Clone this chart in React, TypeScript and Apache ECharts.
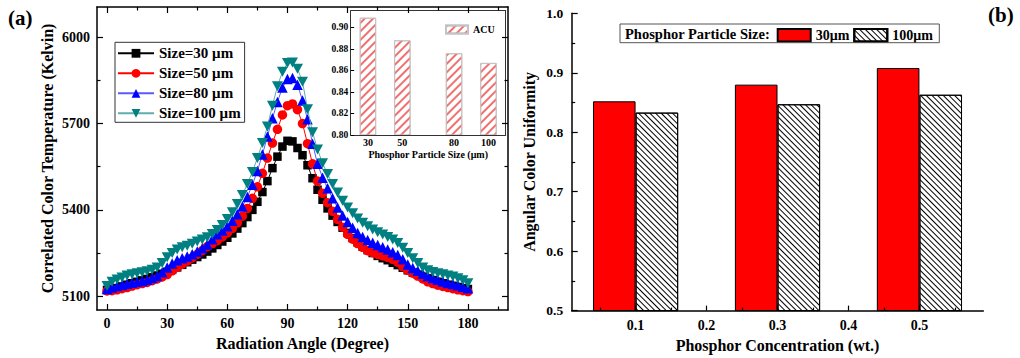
import React, { useEffect, useRef } from 'react';
import * as echarts from 'echarts';

const FONT = "'Liberation Serif', 'Times New Roman', serif";

// ---------- (a) main: CCT vs radiation angle ----------
const angles = [
  0, 2.5, 5, 7.5, 10, 12.5, 15, 17.5, 20, 22.5,
  25, 27.5, 30, 32.5, 35, 37.5, 40, 42.5, 45, 47.5,
  50, 52.5, 55, 57.5, 60, 62.5, 65, 67.5, 70, 72.5,
  75, 77.5, 80, 82.5, 85, 87.5, 90, 92.5, 95, 97.5,
  100, 102.5, 105, 107.5, 110, 112.5, 115, 117.5, 120, 122.5,
  125, 127.5, 130, 132.5, 135, 137.5, 140, 142.5, 145, 147.5,
  150, 152.5, 155, 157.5, 160, 162.5, 165, 167.5, 170, 172.5,
  175, 177.5, 180,
];
const cct30 = [
  5122, 5125, 5128, 5134, 5140, 5145, 5150, 5155, 5160, 5166,
  5172, 5178, 5185, 5192, 5200, 5209, 5218, 5227, 5236, 5245,
  5255, 5266, 5278, 5290, 5303, 5318, 5335, 5354, 5375, 5400,
  5428, 5462, 5500, 5545, 5585, 5620, 5640, 5638, 5615, 5590,
  5555, 5510, 5470, 5435, 5405, 5380, 5358, 5338, 5320, 5302,
  5287, 5272, 5260, 5250, 5240, 5232, 5225, 5216, 5208, 5199,
  5190, 5182, 5175, 5168, 5162, 5156, 5150, 5145, 5140, 5136,
  5132, 5128, 5125,
];
const cct50 = [
  5118, 5119, 5122, 5126, 5130, 5135, 5140, 5144, 5148, 5154,
  5160, 5167, 5175, 5188, 5200, 5211, 5222, 5233, 5245, 5258,
  5272, 5283, 5293, 5306, 5320, 5336, 5355, 5378, 5405, 5440,
  5480, 5527, 5580, 5632, 5680, 5730, 5762, 5768, 5748, 5700,
  5630, 5560, 5500, 5458, 5425, 5395, 5367, 5340, 5315, 5298,
  5283, 5270, 5258, 5251, 5245, 5240, 5235, 5228, 5218, 5203,
  5190, 5180, 5170, 5160, 5150, 5144, 5138, 5134, 5130, 5126,
  5122, 5119, 5116,
];
const cct80 = [
  5125, 5130, 5135, 5139, 5143, 5147, 5150, 5153, 5157, 5163,
  5170, 5183, 5200, 5214, 5225, 5232, 5238, 5246, 5255, 5267,
  5280, 5298, 5315, 5328, 5343, 5362, 5385, 5412, 5445, 5487,
  5535, 5592, 5655, 5718, 5775, 5825, 5855, 5858, 5835, 5780,
  5715, 5630, 5560, 5512, 5475, 5440, 5408, 5380, 5358, 5338,
  5320, 5306, 5295, 5286, 5278, 5270, 5262, 5253, 5243, 5228,
  5210, 5198, 5188, 5178, 5170, 5163, 5157, 5151, 5146, 5142,
  5138, 5133, 5128,
];
const cct100 = [
  5135, 5150, 5158, 5165, 5172, 5176, 5180, 5183, 5187, 5192,
  5200, 5215, 5235, 5250, 5262, 5270, 5275, 5282, 5290, 5297,
  5305, 5316, 5330, 5347, 5368, 5392, 5420, 5452, 5490, 5532,
  5580, 5632, 5690, 5762, 5830, 5880, 5910, 5912, 5890, 5845,
  5750, 5670, 5610, 5562, 5525, 5490, 5460, 5432, 5408, 5388,
  5370, 5355, 5343, 5332, 5322, 5314, 5306, 5297, 5285, 5268,
  5250, 5232, 5215, 5200, 5190, 5184, 5180, 5176, 5172, 5168,
  5162, 5155, 5145,
];
const seriesNamesA = ['Size=30 μm', 'Size=50 μm', 'Size=80 μm', 'Size=100 μm'];
const xMajorA = [0, 30, 60, 90, 120, 150, 180];
const xMinorA = [15, 45, 75, 105, 135, 165, 195];
const yMajorA = [5100, 5400, 5700, 6000];
const yMinorA = [5250, 5550, 5850];

// ---------- (a) inset: ACU vs particle size ----------
const insetSizes = [30, 50, 80, 100];
const insetACU = [0.909, 0.888, 0.876, 0.867];
const insetYTicks = [0.8, 0.82, 0.84, 0.86, 0.88, 0.9];

// ---------- (b) ACU vs concentration ----------
const concentrations = [0.1, 0.3, 0.5];
const acu30 = [0.852, 0.880, 0.908];
const acu100 = [0.833, 0.847, 0.863];
const xMajorB = [0.1, 0.2, 0.3, 0.4, 0.5];
const xMinorB = [0.05, 0.15, 0.25, 0.35, 0.45, 0.55];

const bold = (size: number) => ({ color: '#000', fontFamily: FONT, fontWeight: 'bold' as const, fontSize: size });

function tickAxis(
  kind: 'x' | 'y', gridIndex: number, position: string, min: number, max: number,
  values: number[], len: number, opts: any = {},
) {
  return {
    type: 'value', gridIndex, position, min, max, z: 5,
    axisLine: { show: !!opts.line, onZero: false, lineStyle: { color: opts.lineColor || '#000', width: opts.lineWidth || 1.5 } },
    axisTick: { show: values.length > 0, inside: true, length: len, customValues: values, lineStyle: { color: '#000', width: opts.tickWidth || 1.2 } },
    axisLabel: opts.labels
      ? { show: true, customValues: values, margin: opts.margin, formatter: opts.formatter || ((v: number) => String(v)), ...bold(opts.fontSize || 13.5) }
      : { show: false },
    splitLine: { show: false },
    ...(opts.extra || {}),
  };
}

function buildOption() {
  const lineSeries = [cct30, cct50, cct80, cct100].map((vals, k) => {
    const styles = [
      { symbol: 'rect', size: 8.5, color: '#000000', line: '#000000' },
      { symbol: 'circle', size: 9.5, color: '#ff0000', line: '#ff0000' },
      { symbol: 'triangle', size: 10.5, color: '#0000ff', line: '#5a5aff' },
      { symbol: 'path://M0,0L10,0L5,9Z', size: [11, 10], color: '#008080', line: '#5fadad' },
    ][k];
    return {
      name: seriesNamesA[k], type: 'line', xAxisIndex: 0, yAxisIndex: 0,
      data: angles.map((a, i) => [a, vals[i]]),
      symbol: styles.symbol, symbolSize: styles.size, showAllSymbol: true,
      lineStyle: { color: styles.line, width: 1 },
      itemStyle: { color: styles.color },
      clip: true, z: 2 + k,
    };
  });

  return {
    animation: false,
    backgroundColor: '#ffffff',
    grid: [
      { left: 97, top: 7, width: 411, height: 303 },
      { left: 350.7, top: 10.7, width: 155, height: 124.3 },
      { left: 571.7, top: 13.3, width: 411.6, height: 301.4 },
    ],
    xAxis: [
      tickAxis('x', 0, 'bottom', -5, 200, xMajorA, 6, {
        line: true, labels: true, margin: 6.5, fontSize: 14,
        extra: { name: 'Radiation Angle (Degree)', nameLocation: 'middle', nameGap: 25, nameTextStyle: bold(16) },
      }),
      tickAxis('x', 0, 'bottom', -5, 200, xMinorA, 3.5),
      tickAxis('x', 0, 'top', -5, 200, xMajorA, 6, { line: true }),
      tickAxis('x', 0, 'top', -5, 200, xMinorA, 3.5),
      // inset
      tickAxis('x', 1, 'bottom', 20, 110, insetSizes, 0, {
        line: true, labels: true, margin: 2, fontSize: 10, lineColor: '#333', lineWidth: 1,
        extra: { axisTick: { show: false }, name: 'Phosphor Particle Size (μm)', nameLocation: 'middle', nameGap: 14, nameTextStyle: bold(10) },
      }),
      tickAxis('x', 1, 'top', 20, 110, [], 0, { line: true, lineColor: '#333', lineWidth: 1 }),
      // (b)
      tickAxis('x', 2, 'bottom', 0.01, 0.59, xMajorB, 5, {
        line: true, labels: true, margin: 7.5, fontSize: 14,
        formatter: (v: number) => v.toFixed(1),
        extra: { name: 'Phosphor Concentration (wt.)', nameLocation: 'middle', nameGap: 24, nameTextStyle: bold(16) },
      }),
      tickAxis('x', 2, 'bottom', 0.01, 0.59, xMinorB, 3),
    ],
    yAxis: [
      tickAxis('y', 0, 'left', 5052, 6105, yMajorA, 6, {
        line: true, labels: true, margin: 7, fontSize: 14,
        extra: { name: 'Correlated Color Temperature (Kelvin)', nameLocation: 'middle', nameGap: 42, nameTextStyle: bold(16) },
      }),
      tickAxis('y', 0, 'left', 5052, 6105, yMinorA, 3.5),
      tickAxis('y', 0, 'right', 5052, 6105, yMajorA, 6, { line: true }),
      tickAxis('y', 0, 'right', 5052, 6105, yMinorA, 3.5),
      // inset
      tickAxis('y', 1, 'left', 0.8, 0.9155, insetYTicks, 3.5, {
        line: true, labels: true, margin: 2.5, fontSize: 9.5, lineColor: '#333', lineWidth: 1, tickWidth: 1,
        formatter: (v: number) => v.toFixed(2),
      }),
      tickAxis('y', 1, 'right', 0.8, 0.9155, [], 0, { line: true, lineColor: '#333', lineWidth: 1 }),
      // (b)
      {
        type: 'value', gridIndex: 2, position: 'left', min: 0.5, max: 1.0, interval: 0.1, z: 5,
        axisLine: { show: true, onZero: false, lineStyle: { color: '#000', width: 1.5 } },
        axisTick: { show: true, inside: true, length: 6, lineStyle: { color: '#000', width: 1.2 } },
        minorTick: { show: true, splitNumber: 2, length: 3.5, lineStyle: { color: '#000', width: 1.2 } },
        axisLabel: { show: true, margin: 8.5, formatter: (v: number) => v.toFixed(1), ...bold(13.5) },
        splitLine: { show: false },
        name: 'Angular Color Uniformity', nameLocation: 'middle', nameGap: 34, nameTextStyle: bold(16),
      },
    ],
    legend: [
      {
        data: seriesNamesA, orient: 'vertical', left: 115, top: 42.3,
        itemWidth: 36, itemHeight: 11, itemGap: 5, padding: [3.5, 4, 1.5, 2],
        borderColor: '#333', borderWidth: 1, backgroundColor: '#fff',
        textStyle: bold(15), selectedMode: false,
      },
      {
        data: ['ACU'], left: 445, top: 24.5, itemWidth: 22, itemHeight: 8, padding: 0,
        icon: 'rect', textStyle: bold(10), selectedMode: false,
      },
      {
        data: ['30μm', '100μm'], left: 776.7, top: 28, itemWidth: 33, itemHeight: 12.5, itemGap: 4, padding: 0,
        icon: 'rect', textStyle: bold(14), selectedMode: false,
      },
    ],
    series: [
      ...lineSeries,
      {
        name: 'ACU', type: 'bar', xAxisIndex: 4, yAxisIndex: 4,
        data: insetSizes.map((s, i) => [s, insetACU[i]]),
        barWidth: 16.5, clip: true,
        itemStyle: {
          color: '#ffffff', borderColor: '#c4c4c4', borderWidth: 1,
          decal: { symbol: 'rect', symbolSize: 1, color: '#f07070', dashArrayX: [1, 0], dashArrayY: [1.2, 3.5], rotation: -Math.PI / 4 },
        },
      },
      {
        name: '30μm', type: 'bar', xAxisIndex: 6, yAxisIndex: 6,
        data: concentrations.map((c, i) => [c, acu30[i]]),
        barWidth: 42.6, barGap: '0%', clip: true,
        itemStyle: { color: '#ff0000', borderColor: '#000', borderWidth: 1 },
      },
      {
        name: '100μm', type: 'bar', xAxisIndex: 6, yAxisIndex: 6,
        data: concentrations.map((c, i) => [c, acu100[i]]),
        barWidth: 42.6, barGap: '0%', clip: true,
        itemStyle: {
          color: '#ffffff', borderColor: '#000', borderWidth: 1,
          decal: { symbol: 'rect', symbolSize: 1, color: '#000', dashArrayX: [1, 0], dashArrayY: [1, 3], rotation: Math.PI / 4 },
        },
      },
    ],
    graphic: [
      { type: 'text', left: 8, top: 7, style: { text: '(a)', fill: '#000', font: `bold 21px ${FONT}` } },
      { type: 'text', left: 988, top: 4, style: { text: '(b)', fill: '#000', font: `bold 21px ${FONT}` } },
      { type: 'rect', shape: { x: 620, y: 24, width: 319.3, height: 18.7 }, style: { fill: 'none', stroke: '#555', lineWidth: 1 }, z: 10 },
      { type: 'text', x: 625, y: 33.5, style: { text: 'Phosphor Particle Size:', fill: '#000', font: `bold 14.5px ${FONT}`, verticalAlign: 'middle' }, z: 10 },
    ],
  };
}

export default function App() {
  const ref = useRef<HTMLDivElement>(null);
  useEffect(() => {
    const chart = echarts.init(ref.current!, null, { renderer: 'svg' });
    chart.setOption(buildOption() as any);
    return () => chart.dispose();
  }, []);
  return (
    <div
      ref={ref}
      style={{ position: 'fixed', left: 0, top: 0, width: 1020, height: 358, background: '#fff' }}
    />
  );
}
